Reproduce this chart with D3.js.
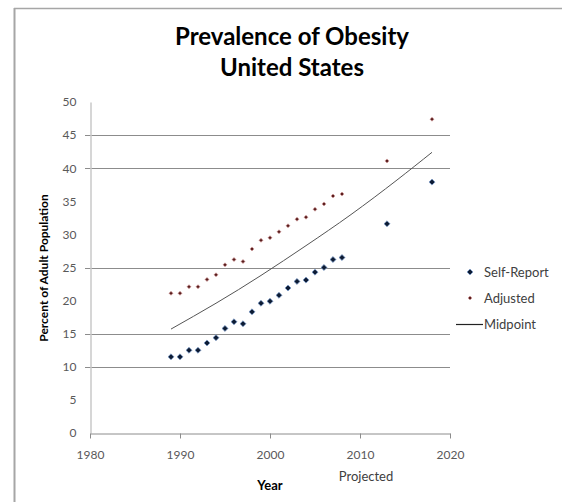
<!DOCTYPE html>
<html>
<head>
<meta charset="utf-8">
<script src="https://cdn.jsdelivr.net/npm/d3@7"></script>
<style>
  html, body { margin: 0; padding: 0; background: #fff; }
  svg { display: block; }
  text { font-family: Lato, "Open Sans", sans-serif; }
</style>
</head>
<body>
<svg id="chart" width="562" height="502"></svg>
<script>
// Survey years and obesity prevalence (% of adults)
const years = [1989, 1990, 1991, 1992, 1993, 1994, 1995, 1996, 1997, 1998, 1999,
               2000, 2001, 2002, 2003, 2004, 2005, 2006, 2007, 2008, 2013, 2018];
const selfReport = [11.5, 11.5, 12.5, 12.5, 13.6, 14.4, 15.8, 16.8, 16.5, 18.3, 19.6,
                    19.9, 20.8, 21.9, 22.9, 23.1, 24.3, 25.0, 26.2, 26.5, 31.6, 37.9];
const adjusted = [21.1, 21.1, 22.1, 22.1, 23.2, 23.9, 25.4, 26.2, 25.9, 27.8, 29.1,
                  29.5, 30.4, 31.3, 32.3, 32.6, 33.8, 34.6, 35.8, 36.1, 41.1, 47.4];
// Midpoint trend curve
const midYears = [1989, 1994, 1999, 2004, 2009, 2014, 2018];
const midpoint = [15.7, 19.6, 23.8, 28.3, 33.0, 38.1, 42.4];

const xTicks = [1980, 1990, 2000, 2010, 2020];
const yTicks = [0, 5, 10, 15, 20, 25, 30, 35, 40, 45, 50];
const gridValues = [10, 15, 25, 40, 45];
const titleLines = ["Prevalence of Obesity", "United States"];
const legendLabels = ["Self-Report", "Adjusted", "Midpoint"];

const svg = d3.select("#chart");

// chart frame
svg.append("line").attr("x1", 14).attr("x2", 562).attr("y1", 8.5).attr("y2", 8.5)
  .attr("stroke", "#a6a6a6").attr("stroke-width", 1.5);
svg.append("line").attr("x1", 14.5).attr("x2", 14.5).attr("y1", 8).attr("y2", 502)
  .attr("stroke", "#a6a6a6").attr("stroke-width", 2);

const x = d3.scaleLinear().domain([1980, 2020]).range([90, 450]);
const y = d3.scaleLinear().domain([0, 50]).range([433, 102]);

// title
svg.append("g").selectAll("text").data(titleLines).join("text")
  .attr("x", 292).attr("y", (d, i) => 45 + i * 31)
  .attr("text-anchor", "middle")
  .attr("font-size", 24).attr("font-weight", "bold").attr("fill", "#000")
  .text(d => d);

// horizontal gridlines
svg.append("g").selectAll("line").data(gridValues).join("line")
  .attr("x1", 85).attr("x2", 450)
  .attr("y1", d => Math.round(y(d)) + 0.5).attr("y2", d => Math.round(y(d)) + 0.5)
  .attr("stroke", "#8c8c8c").attr("stroke-width", 1);

// y axis
const yAxis = svg.append("g").attr("transform", "translate(90.5,0)")
  .call(d3.axisLeft(y).tickValues(yTicks).tickSize(0).tickPadding(14).tickFormat(d3.format("d")));
yAxis.select(".domain").attr("stroke", "#c8c8c8").attr("stroke-width", 1.5);
yAxis.selectAll("text").attr("font-size", 12).attr("fill", "#595959")
  .attr("font-family", "Lato, 'Open Sans', sans-serif");

// x axis
const xAxis = svg.append("g").attr("transform", "translate(0,433.5)")
  .call(d3.axisBottom(x).tickValues(xTicks).tickSize(5).tickPadding(12).tickSizeOuter(0).tickFormat(d3.format("d")));
xAxis.select(".domain").attr("stroke", "#8c8c8c");
xAxis.selectAll(".tick line").attr("stroke", "#8c8c8c");
xAxis.selectAll("text").attr("font-size", 12).attr("fill", "#595959")
  .attr("font-family", "Lato, 'Open Sans', sans-serif");

// axis titles
svg.append("text").attr("transform", "translate(48,268) rotate(-90)")
  .attr("text-anchor", "middle").attr("font-size", 12).attr("font-weight", "bold")
  .attr("fill", "#000").text("Percent of Adult Population");
svg.append("text").attr("x", 270).attr("y", 490)
  .attr("text-anchor", "middle").attr("font-size", 13).attr("font-weight", "bold")
  .attr("fill", "#000").text("Year");
svg.append("text").attr("x", 366).attr("y", 481)
  .attr("text-anchor", "middle").attr("font-size", 13)
  .attr("fill", "#404040").text("Projected");

// midpoint curve
const line = d3.line().x(d => x(d[0])).y(d => y(d[1])).curve(d3.curveNatural);
svg.append("path").datum(d3.zip(midYears, midpoint))
  .attr("d", line).attr("fill", "none").attr("stroke", "#555").attr("stroke-width", 1);

// series markers: square diamonds for self-report, small dots for adjusted
const selfMark = d3.symbol().type(d3.symbolSquare).size(18)();
const adjMark = d3.symbol().type(d3.symbolSquare).size(8)();
svg.append("g").selectAll("path").data(d3.zip(years, adjusted)).join("path")
  .attr("transform", d => `translate(${x(d[0])},${y(d[1])}) rotate(45)`)
  .attr("d", adjMark).attr("fill", "#5a1e1e")
  .attr("stroke", "#d9a0a0").attr("stroke-width", 0.6);
svg.append("g").selectAll("path").data(d3.zip(years, selfReport)).join("path")
  .attr("transform", d => `translate(${x(d[0])},${y(d[1])}) rotate(45)`)
  .attr("d", selfMark).attr("fill", "#0d1b33")
  .attr("stroke", "#7f9fcf").attr("stroke-width", 0.7);

// legend
const lg = svg.append("g");
lg.append("path").attr("transform", "translate(470,272) rotate(45)")
  .attr("d", selfMark).attr("fill", "#0d1b33").attr("stroke", "#7f9fcf").attr("stroke-width", 0.7);
lg.append("path").attr("transform", "translate(470,298) rotate(45)")
  .attr("d", adjMark).attr("fill", "#5a1e1e").attr("stroke", "#d9a0a0").attr("stroke-width", 0.6);
lg.append("line").attr("x1", 456).attr("x2", 483).attr("y1", 324.5).attr("y2", 324.5)
  .attr("stroke", "#222").attr("stroke-width", 1.2);
lg.selectAll("text").data(legendLabels).join("text")
  .attr("x", 484).attr("y", (d, i) => 277 + i * 26)
  .attr("font-size", 13).attr("fill", "#404040").text(d => d);
</script>
</body>
</html>
